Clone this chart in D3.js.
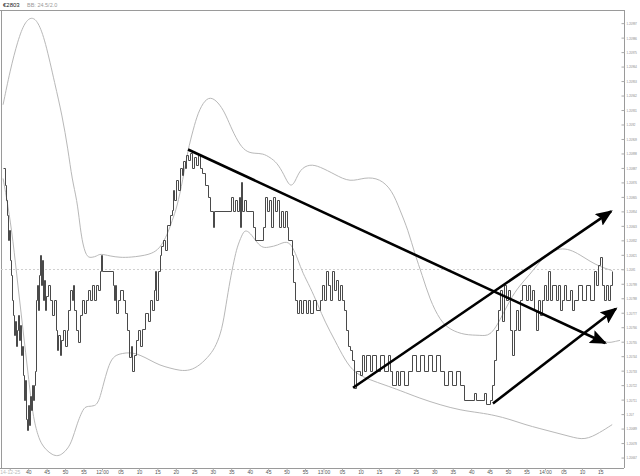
<!DOCTYPE html>
<html><head><meta charset="utf-8">
<script src="https://cdn.jsdelivr.net/npm/d3@7/dist/d3.min.js"></script>
<style>
html,body{margin:0;padding:0;background:#fff;}
svg{display:block;}
text{font-family:"Liberation Sans",Arial,sans-serif;}
</style></head>
<body>
<svg id="c" width="640" height="476"></svg>
<script>
// ---- DATA (time = minutes after 12:00 on 2014-12-25, value = price) ----
const symbolLabel = "€2803";
const indicatorLabel = "BB: 24.5/2.0";
const dateLabel = "14-12-25";
const refPrice = 1.2081;
const yTickValues = [1.20997,1.20986,1.20975,1.20964,1.20953,1.20942,1.20931,1.2092,1.20909,1.20898,
  1.20887,1.20876,1.20865,1.20854,1.20843,1.20832,1.20821,1.2081,1.20799,1.20788,1.20777,1.20766,
  1.20755,1.20744,1.20733,1.20722,1.20711,1.207,1.20689,1.20678,1.20667];
const xTickMinutes = [-25,-20,-15,-10,-5,0,5,10,15,20,25,30,35,40,45,50,55,60,65,70,75,80,85,90,95,100,105,110,115,120,125,130,135];

const priceTicks = [
[-26.8,1.20887],[-26.3,1.20874],[-26.0,1.20863],[-25.7,1.20851],[-25.5,1.20832],[-25.2,1.20840],[-24.9,1.20817],
[-24.7,1.20806],[-24.4,1.20787],[-24.1,1.20775],[-23.8,1.20760],[-23.6,1.20771],[-23.3,1.20752],[-23.0,1.20764],
[-22.8,1.20775],[-22.5,1.20756],[-22.2,1.20768],[-21.9,1.20745],[-21.7,1.20752],[-21.4,1.20730],[-21.1,1.20711],
[-20.9,1.20726],[-20.6,1.20696],[-20.3,1.20688],[-20.0,1.20707],[-19.8,1.20692],[-19.5,1.20714],[-19.2,1.20703],
[-19.0,1.20722],[-18.7,1.20711],[-18.4,1.20722],[-18.1,1.20733],[-17.9,1.20787],[-17.6,1.20798],[-17.3,1.20779],
[-17.1,1.20806],[-16.8,1.20821],[-16.5,1.20798],[-16.3,1.20817],[-16.0,1.20787],[-15.7,1.20802],[-15.4,1.20779],
[-15.2,1.20790],[-14.6,1.20798],[-14.1,1.20787],[-13.5,1.20775],[-13.0,1.20787],[-12.5,1.20764],[-12.2,1.20749],
[-11.9,1.20760],[-11.4,1.20745],[-11.1,1.20756],[-10.6,1.20764],[-10.0,1.20752],[-9.5,1.20764],[-9.2,1.20779],
[-8.7,1.20794],[-8.1,1.20787],[-7.9,1.20798],[-7.6,1.20779],[-7.0,1.20764],[-6.5,1.20755],[-6.0,1.20775],
[-5.4,1.20787],[-4.9,1.20777],[-4.3,1.20787],[-3.8,1.20794],[-3.3,1.20787],[-2.7,1.20798],[-2.2,1.20787],
[-1.6,1.20798],[-1.1,1.20794],[-0.5,1.20809],[-0.3,1.20821],[0,1.20809],[3.0,1.20798],[3.3,1.20787],[3.5,1.20798],
[3.8,1.20777],[4.3,1.20787],[4.9,1.20794],[5.7,1.20787],[6.2,1.20777],[6.8,1.20764],[7.3,1.20743],[7.9,1.20752],
[8.1,1.20733],[8.7,1.20745],[9.2,1.20756],[9.8,1.20764],[10.3,1.20752],[10.8,1.20765],[11.6,1.20777],[12.5,1.20771],
[13.0,1.20787],[13.5,1.20779],[14.1,1.20794],[14.4,1.20809],[14.6,1.20787],[15.2,1.20809],[15.7,1.20821],[16.0,1.20828],
[16.5,1.20832],[17.1,1.20825],[17.6,1.20844],[18.4,1.20851],[19.0,1.20855],[19.2,1.20870],[19.5,1.20863],[20.0,1.20878],
[20.6,1.20870],[21.1,1.20887],[21.7,1.20882],[21.9,1.20892],[22.5,1.20887],[22.8,1.20897],[23.3,1.20893],[23.8,1.20898],
[24.4,1.20887],[24.9,1.20895],[25.5,1.20889],[26.0,1.20897],[26.5,1.20887],[27.1,1.20883],[27.9,1.20874],[28.7,1.20865],
[29.3,1.20854],[30.1,1.20842],[30.3,1.20854],[34.9,1.20865],[35.5,1.20854],[36.0,1.20863],[36.6,1.20854],[37.1,1.20865],
[37.4,1.20842],[37.7,1.20876],[37.9,1.20854],[38.5,1.20863],[39.0,1.20854],[40.9,1.20842],[41.5,1.20832],[43.6,1.20842],
[44.2,1.20865],[44.7,1.20854],[45.2,1.20863],[45.8,1.20842],[46.3,1.20865],[46.9,1.20854],[47.4,1.20863],[47.9,1.20842],
[48.5,1.20854],[49.0,1.20842],[49.6,1.20854],[50.1,1.20842],[50.4,1.20832],[51.5,1.20821],[51.7,1.20800],[52.3,1.20787],
[52.8,1.20777],[53.4,1.20787],[53.9,1.20777],[54.4,1.20787],[55.3,1.20777],[55.8,1.20787],[56.3,1.20777],
[57.2,1.20787],[58.0,1.20779],[59.0,1.20787],[59.6,1.20798],[60.1,1.20787],[60.7,1.20809],[61.2,1.20798],[61.8,1.20787],
[62.3,1.20809],[62.8,1.20794],[63.4,1.20802],[63.9,1.20787],[64.5,1.20798],[65.0,1.20787],[65.6,1.20779],[66.1,1.20764],
[66.6,1.20752],[67.2,1.20749],[67.7,1.20741],[68.3,1.20720],[68.8,1.20733],[69.9,1.20730],[70.4,1.20745],[71.0,1.20733],
[71.5,1.20745],[72.6,1.20733],[73.1,1.20745],[74.2,1.20733],[75.3,1.20745],[76.4,1.20733],[77.5,1.20745],[78.0,1.20733],
[78.6,1.20722],[79.6,1.20733],[80.2,1.20722],[80.7,1.20733],[81.8,1.20722],[82.9,1.20733],[84.0,1.20745],[85.0,1.20733],
[86.1,1.20745],[87.2,1.20733],[88.3,1.20745],[89.4,1.20733],[90.5,1.20745],[91.6,1.20733],[92.6,1.20722],[93.7,1.20733],
[94.8,1.20722],[95.9,1.20733],[97.0,1.20722],[98.1,1.20711],[100.8,1.20716],[101.3,1.20711],[103.5,1.20716],[104.0,1.20708],
[105.1,1.20711],[105.6,1.20722],[106.2,1.20741],[106.7,1.20764],[107.3,1.20779],[107.8,1.20794],[108.3,1.20771],
[108.9,1.20798],[109.4,1.20787],[110.0,1.20794],[110.5,1.20764],[111.1,1.20745],[111.6,1.20764],[112.1,1.20779],
[112.7,1.20764],[113.2,1.20787],[113.8,1.20798],[114.8,1.20787],[115.4,1.20798],[115.9,1.20787],[116.5,1.20794],
[117.0,1.20779],[117.6,1.20764],[118.1,1.20787],[118.6,1.20775],[119.2,1.20787],[119.7,1.20798],[120.3,1.20787],
[120.8,1.20809],[121.3,1.20787],[121.9,1.20798],[123.0,1.20787],[123.5,1.20798],[124.1,1.20779],[124.6,1.20787],
[125.1,1.20798],[125.7,1.20787],[126.8,1.20794],[127.3,1.20779],[127.9,1.20787],[128.9,1.20798],[130.0,1.20787],
[131.1,1.20798],[132.2,1.20787],[133.3,1.20809],[133.8,1.20798],[134.3,1.20813],[134.9,1.20819],[135.4,1.20798],
[136.0,1.20787],[136.5,1.20798],[137.1,1.20787],[137.6,1.20798],[138.2,1.20809]
];

const upperBand = [
[-26.8,1.20935],[-24.9,1.20961],[-22.8,1.20984],[-20.9,1.20998],[-19.0,1.21002],[-17.3,1.20998],[-15.4,1.20984],
[-12.7,1.20950],[-10.8,1.20927],[-9.2,1.20901],[-8.1,1.20878],[-6.8,1.20863],[-6.0,1.20844],[-5.4,1.20832],
[-4.6,1.20823],[-3.8,1.20819],[-2.7,1.20819],[-1.4,1.20820],[-0.5,1.20822],[2.2,1.20820],[4.9,1.20819],[7.6,1.20819],
[13.0,1.20821],[15.2,1.20825],[16.5,1.20830],[17.9,1.20838],[19.0,1.20847],[20.3,1.20857],[21.9,1.20878],[23.3,1.20901],
[24.7,1.20916],[26.0,1.20929],[27.9,1.20939],[29.8,1.20941],[32.0,1.20935],[33.6,1.20927],[35.2,1.20916],[37.4,1.20904],
[39.3,1.20899],[41.4,1.20898],[43.6,1.20898],[45.5,1.20895],[47.4,1.20891],[49.3,1.20882],[50.9,1.20872],[52.3,1.20876],
[53.6,1.20886],[56.3,1.20890],[59.0,1.20888],[63.1,1.20882],[67.2,1.20876],[71.2,1.20880],[75.3,1.20879],[78.6,1.20870],
[80.7,1.20855],[82.9,1.20840],[84.8,1.20821],[86.7,1.20806],[88.8,1.20787],[91.6,1.20771],[94.3,1.20764],[98.3,1.20760],
[102.4,1.20760],[105.1,1.20759],[107.8,1.20771],[110.5,1.20787],[113.2,1.20798],[115.9,1.20806],[118.6,1.20816],
[121.3,1.20823],[124.1,1.20826],[126.8,1.20825],[129.5,1.20821],[132.2,1.20816],[134.9,1.20812],[138.2,1.20809]
];

const lowerBand = [
[-26.8,1.20879],[-25.5,1.20859],[-24.1,1.20832],[-22.8,1.20798],[-21.4,1.20764],[-20.0,1.20730],[-18.7,1.20698],
[-17.3,1.20683],[-16.3,1.20677],[-15.2,1.20673],[-13.5,1.20669],[-11.9,1.20668],[-10.6,1.20670],[-9.2,1.20674],
[-8.1,1.20680],[-6.8,1.20692],[-6.0,1.20698],[-4.9,1.20705],[-3.8,1.20706],[-1.9,1.20706],[-1.1,1.20709],[-0.5,1.20713],
[0.5,1.20724],[1.4,1.20733],[2.4,1.20741],[3.8,1.20745],[5.4,1.20746],[7.6,1.20747],[10.3,1.20745],[13.0,1.20741],
[15.7,1.20737],[18.4,1.20735],[21.1,1.20733],[23.8,1.20733],[26.5,1.20737],[29.3,1.20745],[30.9,1.20752],[32.5,1.20764],
[33.6,1.20783],[34.7,1.20802],[35.8,1.20817],[36.6,1.20827],[37.9,1.20836],[38.7,1.20840],[40.1,1.20838],[42.0,1.20830],
[43.6,1.20826],[45.5,1.20827],[47.4,1.20828],[50.1,1.20832],[51.7,1.20827],[53.1,1.20817],[54.4,1.20807],[56.3,1.20797],
[58.5,1.20783],[60.4,1.20770],[63.1,1.20756],[65.8,1.20741],[68.5,1.20731],[72.6,1.20726],[76.7,1.20722],[80.7,1.20718],
[86.1,1.20712],[91.6,1.20707],[97.0,1.20703],[102.4,1.20701],[106.5,1.20699],[110.5,1.20696],[114.6,1.20692],
[118.6,1.20689],[122.7,1.20686],[126.8,1.20683],[130.8,1.20680],[134.9,1.20686],[138.2,1.20692]
];

// short visible stretch of the middle band at the right edge
const midBandTail = [
[132.2,1.20755],[133.8,1.20754],[135.4,1.20756],[137.1,1.20754],[138.7,1.20755],[140.3,1.20756]
];

// drawn trend annotations: [startMinute, startPrice, endMinute, endPrice, arrowhead]
const trendLines = [
  [23.3, 1.20901, 136.3, 1.20754, true],
  [68.0, 1.20720, 137.9, 1.20854, true],
  [105.9, 1.20708, 139.2, 1.20780, true]
];

// ---- CHART ----
const svg = d3.select("#c");
const base = new Date(2014, 11, 25, 12, 0, 0);
const toDate = m => new Date(base.getTime() + m * 60000);
const L = 1, R = 624, T = 10, B = 468;

const x = d3.scaleTime().domain([toDate(-27.36), toDate(141.4)]).range([L, R]);
const y = d3.scaleLinear().domain([1.2065905, 1.2100698]).range([B, T]);

const defs = svg.append("defs");
defs.append("clipPath").attr("id", "clip").append("rect")
  .attr("x", L).attr("y", T).attr("width", R - L).attr("height", B - T);
defs.append("marker").attr("id", "arrow")
  .attr("markerUnits", "userSpaceOnUse")
  .attr("markerWidth", 18).attr("markerHeight", 14)
  .attr("refX", 15).attr("refY", 7).attr("orient", "auto")
  .append("path").attr("d", "M0,0 L17,7 L0,14 L3,7 Z").attr("fill", "#000");

// frame
svg.append("line").attr("x1", 0).attr("x2", R).attr("y1", T + 0.5).attr("y2", T + 0.5).attr("stroke", "#9a9a9a");
svg.append("line").attr("x1", L + 0.5).attr("x2", L + 0.5).attr("y1", T).attr("y2", B).attr("stroke", "#9a9a9a");

// header
svg.append("text").attr("x", 3).attr("y", 7).attr("font-size", 6).attr("fill", "#222").text(symbolLabel);
svg.append("text").attr("x", 27).attr("y", 7).attr("font-size", 5.5).attr("fill", "#999").text(indicatorLabel);

const plot = svg.append("g").attr("clip-path", "url(#clip)");

// reference dotted line
plot.append("line").attr("x1", L).attr("x2", R)
  .attr("y1", Math.round(y(refPrice)) + 0.5).attr("y2", Math.round(y(refPrice)) + 0.5)
  .attr("stroke", "#d0d0d0").attr("stroke-dasharray", "2,2");

const lineGen = d3.line().x(d => x(toDate(d[0]))).y(d => y(d[1])).curve(d3.curveBasis);
plot.append("path").attr("d", lineGen(upperBand)).attr("fill", "none").attr("stroke", "#b8b8b8").attr("stroke-width", 1);
plot.append("path").attr("d", lineGen(lowerBand)).attr("fill", "none").attr("stroke", "#b8b8b8").attr("stroke-width", 1);
plot.append("path").attr("d", lineGen(midBandTail)).attr("fill", "none").attr("stroke", "#b8b8b8").attr("stroke-width", 1);

const stepGen = d3.line().x(d => Math.round(x(toDate(d[0]))) + 0.5).y(d => Math.round(y(d[1])) + 0.5).curve(d3.curveStepAfter);
plot.append("path").attr("d", stepGen(priceTicks)).attr("fill", "none").attr("stroke", "#4a4a4a").attr("stroke-width", 1);

// trend annotations
svg.append("g").selectAll("line").data(trendLines).join("line")
  .attr("x1", d => x(toDate(d[0]))).attr("y1", d => y(d[1]))
  .attr("x2", d => x(toDate(d[2]))).attr("y2", d => y(d[3]))
  .attr("stroke", "#000").attr("stroke-width", 2.6)
  .attr("marker-end", d => d[4] ? "url(#arrow)" : null);

// right axis
const yFmt = d3.format(".5~f");
const yAxis = svg.append("g").attr("transform", `translate(${R + 0.5},0)`)
  .call(d3.axisRight(y).tickValues(yTickValues).tickSize(0).tickPadding(0).tickFormat(yFmt));
yAxis.select(".domain").attr("stroke", "#9a9a9a").attr("d", `M0,${T}V${B}`);
yAxis.selectAll(".tick").append("line").attr("x1", -3).attr("x2", 0).attr("stroke", "#aaa");
yAxis.selectAll("text")
  .attr("x", 0)
  .attr("transform", "translate(2,0) scale(0.66,1)")
  .attr("font-size", 4.4).attr("fill", "#8a8a8a")
  .attr("font-family", "Liberation Sans, Arial, sans-serif");

// bottom axis
const fmtX = (d, i) => {
  const h = d.getHours(), m = d.getMinutes();
  if (i === 0) return dateLabel;
  if (m === 0) return h + ":00";
  return d3.format("02d")(m);
};
const xAxis = svg.append("g").attr("transform", `translate(0,${B + 0.5})`)
  .call(d3.axisBottom(x).tickValues(xTickMinutes.map(toDate)).tickSize(2).tickPadding(0).tickFormat(fmtX));
xAxis.select(".domain").attr("stroke", "#9a9a9a").attr("d", `M0,0H${R}`);
xAxis.selectAll(".tick line").attr("stroke", "#aaa");
xAxis.selectAll("text").attr("font-size", 5).attr("fill", "#555").attr("font-family", "Liberation Sans Narrow, Liberation Sans, sans-serif");
xAxis.selectAll(".tick").filter((d, i) => i === 0).select("text").attr("fill", "#bbb");
</script>
</body></html>
